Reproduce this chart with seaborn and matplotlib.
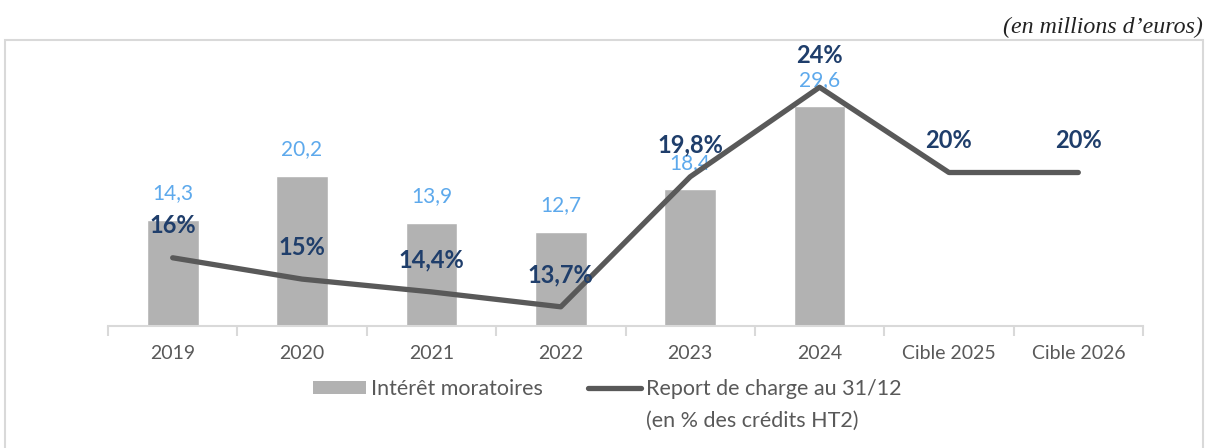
import numpy as np
import pandas as pd
import matplotlib
matplotlib.use("Agg")
import matplotlib.pyplot as plt
from matplotlib.patches import Rectangle, Patch
from matplotlib.lines import Line2D
import seaborn as sns

categories = ["2019", "2020", "2021", "2022", "2023", "2024", "Cible 2025", "Cible 2026"]
interets = [14.3, 20.2, 13.9, 12.7, 18.4, 29.6, np.nan, np.nan]
report_pct = [16, 15, 14.4, 13.7, 19.8, 24, 20, 20]

bar_color = "#B2B2B2"
line_color = "#595959"
blue = "#5DA9EC"
navy = "#1F3E6B"
text_gray = "#595959"

sns.set_theme(style="white")
plt.rcParams["font.family"] = ["Lato", "DejaVu Sans"]

df = pd.DataFrame({"cat": categories, "val": interets, "pct": report_pct,
                   "pos": np.arange(len(categories))})

fig = plt.figure(figsize=(12.07, 4.48), dpi=100)
ax = fig.add_axes([108 / 1207, (448 - 326) / 448, (1143 - 108) / 1207, (326 - 51) / 448])

sns.barplot(data=df, x="cat", y="val", order=categories, color=bar_color,
            width=0.4, ax=ax, saturation=1)
ax.set_ylim(0, 37)
ax.set_xlim(-0.5, len(categories) - 0.5)

for i, v in enumerate(interets):
    if not np.isnan(v):
        ax.annotate(f"{v:.1f}".replace(".", ","), (i, v), xytext=(0, 19),
                    textcoords="offset points", ha="center", va="center",
                    color=blue, fontsize=15)

ax2 = ax.twinx()
sns.lineplot(data=df, x="pos", y="pct", color=line_color, linewidth=3.8, ax=ax2,
             solid_capstyle="round", solid_joinstyle="round")
ax2.set_ylim(12.8, 25.7)
ax2.set_xlim(-0.5, len(categories) - 0.5)

for i, p in enumerate(report_pct):
    lab = (f"{p:g}".replace(".", ",")) + "%"
    ax2.annotate(lab, (i, p), xytext=(0, 23), textcoords="offset points",
                 ha="center", va="center", color=navy, fontsize=17, fontweight="bold")

for a in (ax, ax2):
    for s in ["top", "right", "left"]:
        a.spines[s].set_visible(False)
    a.set_ylabel("")
    a.set_xlabel("")
    a.set_yticks([])
ax2.spines["bottom"].set_visible(False)
ax2.set_xticks([])

ax.spines["bottom"].set_color("#D9D9D9")
ax.spines["bottom"].set_linewidth(1.5)
ax.set_xticks(np.arange(len(categories)))
ax.set_xticklabels(categories, color=text_gray, fontsize=14)
ax.set_xticks(np.arange(-0.5, len(categories)), minor=True)
ax.tick_params(axis="x", which="major", length=0, pad=14)
ax.tick_params(axis="x", which="minor", length=7, width=1.5, color="#D9D9D9", bottom=True)

handles = [Patch(facecolor=bar_color, edgecolor="none"),
           Line2D([0], [0], color=line_color, linewidth=3.8, solid_capstyle="round")]
labels = ["Intérêt moratoires", "Report de charge au 31/12"]
leg = fig.legend(handles, labels, ncol=2, loc="upper left",
                 bbox_to_anchor=(313 / 1207, 1 - 379 / 448),
                 frameon=False, fontsize=15.5, handlelength=2.45, handleheight=0.56,
                 handletextpad=0.25, columnspacing=2.1, borderpad=0, borderaxespad=0,
                 labelcolor=text_gray)

fig.canvas.draw()
bb = leg.get_texts()[1].get_window_extent()
fig.text(bb.x0 / 1207, 1 - 421 / 448, "(en % des crédits HT2)", ha="left", va="center",
         fontsize=15.5, color=text_gray)

fig.text(1203 / 1207, 1 - 27 / 448, "(en millions d’euros)", ha="right", va="center",
         fontsize=17.2, style="italic", family="Liberation Serif", color="#222222")

fig.patches.append(Rectangle((5 / 1207, -0.1), 1198 / 1207, 1.1 - 40 / 448,
                             transform=fig.transFigure, fill=False, edgecolor="#D9D9D9",
                             linewidth=1.5, clip_on=False))

fig.savefig("out.png", dpi=100)
